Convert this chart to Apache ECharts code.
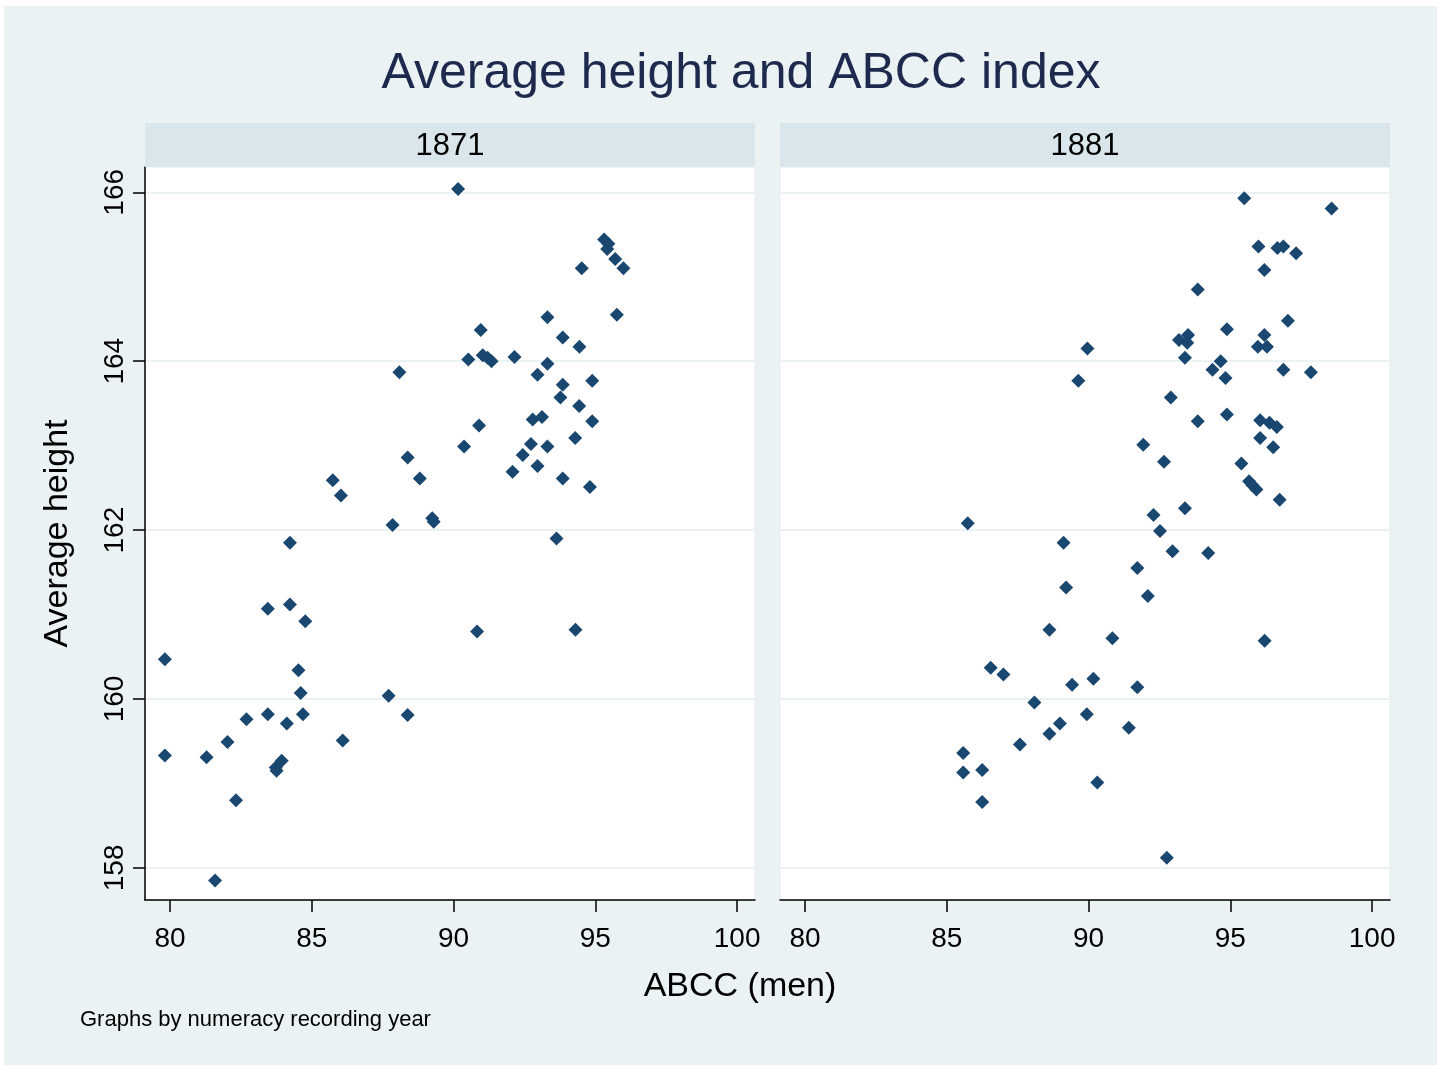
<!DOCTYPE html>
<html>
<head>
<meta charset="utf-8">
<title>Average height and ABCC index</title>
<script src="https://cdn.jsdelivr.net/npm/echarts@6/dist/echarts.min.js"></script>
<style>
  html, body { margin: 0; padding: 0; background: #fff; }
  #chart { width: 1441px; height: 1068px; }
</style>
</head>
<body>
<div id="chart"></div>
<script>
// panels (numeracy recording year)
const years = ['1871', '1881'];
const xTicks = [80, 85, 90, 95, 100];
const yTicks = [158, 160, 162, 164, 166];

// 1871: ABCC (men) vs average height
const abcc1871 = [88.09, 88.38, 88.81, 85.74, 86.03, 87.85, 89.25, 89.3,
  90.16, 95.31, 95.46, 95.42, 95.70, 95.99, 94.52, 95.76, 93.31, 90.96, 93.85, 94.44,
  90.52, 91.03, 91.2, 91.34, 92.15, 93.31, 92.96, 94.89, 93.85, 93.77, 94.43, 90.9,
  92.79, 93.12, 94.89, 90.37, 92.73, 93.31, 94.29, 92.44, 92.96, 92.08, 93.85, 94.81,
  93.63, 84.23, 83.45, 84.23, 84.77, 79.82, 84.53, 84.61, 87.71, 88.38, 82.70, 83.45,
  84.12, 84.69, 86.09, 82.03, 79.82, 81.29, 83.73, 83.94, 83.76, 82.33, 81.59, 90.83, 94.30];
const height1871 = [163.87, 162.86, 162.61, 162.59, 162.41, 162.06, 162.14, 162.1,
  166.04, 165.44, 165.39, 165.33, 165.21, 165.10, 165.10, 164.55, 164.52, 164.37, 164.28, 164.17,
  164.02, 164.07, 164.04, 164.0, 164.05, 163.97, 163.84, 163.77, 163.72, 163.57, 163.47, 163.24,
  163.31, 163.34, 163.29, 162.99, 163.02, 162.99, 163.09, 162.89, 162.76, 162.69, 162.61, 162.51,
  161.90, 161.85, 161.07, 161.12, 160.92, 160.47, 160.34, 160.07, 160.04, 159.81, 159.76, 159.82,
  159.71, 159.82, 159.51, 159.49, 159.33, 159.31, 159.19, 159.27, 159.15, 158.80, 157.85, 160.80, 160.82];

// 1881
const abcc1881 = [89.96, 89.64, 85.74, 95.49, 98.57, 95.99, 96.66, 96.87, 97.32, 96.20,
  93.85, 97.03, 94.88, 96.20, 93.19, 93.51, 93.48, 95.97, 96.29, 93.40, 94.66, 94.37,
  94.83, 96.87, 97.84, 92.90, 93.85, 94.88, 96.05, 96.38, 96.64, 96.05, 96.51, 91.93,
  92.66, 95.39, 95.66, 95.78, 95.92, 96.74, 92.29, 93.40, 92.52, 92.96, 94.22, 91.72,
  92.09, 90.84, 96.21, 90.17, 91.72, 89.94, 91.42, 90.31, 92.76, 89.12, 89.21, 88.62,
  86.55, 87.0, 89.42, 88.09, 88.99, 88.62, 87.58, 85.58, 85.58, 86.25, 86.25];
const height1881 = [164.15, 163.77, 162.08, 165.93, 165.81, 165.36, 165.34, 165.36, 165.28, 165.08,
  164.85, 164.48, 164.38, 164.31, 164.25, 164.31, 164.22, 164.17, 164.17, 164.04, 164.0, 163.90,
  163.80, 163.90, 163.87, 163.57, 163.29, 163.37, 163.30, 163.27, 163.22, 163.09, 162.98, 163.01,
  162.81, 162.79, 162.58, 162.53, 162.48, 162.36, 162.18, 162.26, 161.99, 161.75, 161.73, 161.55,
  161.22, 160.72, 160.69, 160.24, 160.14, 159.82, 159.66, 159.01, 158.12, 161.85, 161.32, 160.82,
  160.37, 160.29, 160.17, 159.96, 159.71, 159.59, 159.46, 159.36, 159.13, 159.16, 158.78];

const bg = '#eaf2f3';
const stripColor = '#d9e6eb';
const markColor = '#1a476f';
const font = 'Liberation Sans, Arial, sans-serif';

function pairs(xs, ys) {
  return xs.map((x, i) => [x, ys[i]]);
}

const panelLeft = [145, 780];
const panelW = 610;
const panelTop = 167;
const panelH = 733;

let grids = [];
let xAxes = [];
let yAxes = [];
let series = [];
let strips = [];

[pairs(abcc1871, height1871), pairs(abcc1881, height1881)].forEach((data, i) => {
  grids.push({
    left: panelLeft[i], top: panelTop, width: panelW, height: panelH,
    show: true, backgroundColor: '#fff', borderColor: '#e3ebee', borderWidth: 1
  });
  xAxes.push({
    type: 'value', gridIndex: i, min: 79.12, max: 100.63,
    axisLine: { show: true, onZero: false, lineStyle: { color: '#000', width: 1.5 } },
    axisTick: { show: true, length: 12, customValues: xTicks, lineStyle: { color: '#000', width: 1.5 } },
    axisLabel: { customValues: xTicks, fontSize: 28, color: '#000', fontFamily: font, margin: 25 },
    splitLine: { show: false }
  });
  yAxes.push({
    type: 'value', gridIndex: i, min: 157.62, max: 166.3,
    name: i === 0 ? 'Average height' : '',
    nameLocation: 'middle', nameGap: 70,
    nameTextStyle: { fontSize: 34, color: '#000', fontFamily: font },
    axisLine: { show: i === 0, onZero: false, lineStyle: { color: '#000', width: 1.5 } },
    axisTick: { show: i === 0, length: 12, customValues: yTicks, lineStyle: { color: '#000', width: 1.5 } },
    axisLabel: { show: i === 0, customValues: yTicks, rotate: 90, fontSize: 28, color: '#000', fontFamily: font, margin: 16 },
    splitLine: { show: true, lineStyle: { color: bg, width: 2 } }
  });
  series.push({
    type: 'scatter', xAxisIndex: i, yAxisIndex: i,
    symbol: 'diamond', symbolSize: 14,
    itemStyle: { color: markColor, opacity: 1 },
    data: data
  });
  strips.push({
    type: 'rect', z: 5,
    shape: { x: panelLeft[i], y: 123, width: panelW, height: 44 },
    style: { fill: stripColor }
  });
  strips.push({
    type: 'text', z: 6, x: panelLeft[i] + panelW / 2, y: 146,
    style: { text: years[i], font: '31px ' + font, fill: '#000', align: 'center', verticalAlign: 'middle' }
  });
});

let option = {
  backgroundColor: '#fff',
  animation: false,
  grid: grids,
  xAxis: xAxes,
  yAxis: yAxes,
  series: series,
  graphic: {
    elements: [
      {
        type: 'rect', z: -10, silent: true,
        shape: { x: 4, y: 6, width: 1433, height: 1059 },
        style: { fill: bg }
      },
      {
        type: 'text', z: 6, x: 741, y: 74,
        style: { text: 'Average height and ABCC index', font: '50px ' + font, fill: '#1d2a4d', align: 'center', verticalAlign: 'middle' }
      },
      {
        type: 'text', z: 6, x: 740, y: 987,
        style: { text: 'ABCC (men)', font: '34px ' + font, fill: '#000', align: 'center', verticalAlign: 'middle' }
      },
      {
        type: 'text', z: 6, x: 80, y: 1020,
        style: { text: 'Graphs by numeracy recording year', font: '22px ' + font, fill: '#000', align: 'left', verticalAlign: 'middle' }
      }
    ].concat(strips)
  }
};

let myChart = echarts.init(document.getElementById('chart'));
myChart.setOption(option);
</script>
</body>
</html>
